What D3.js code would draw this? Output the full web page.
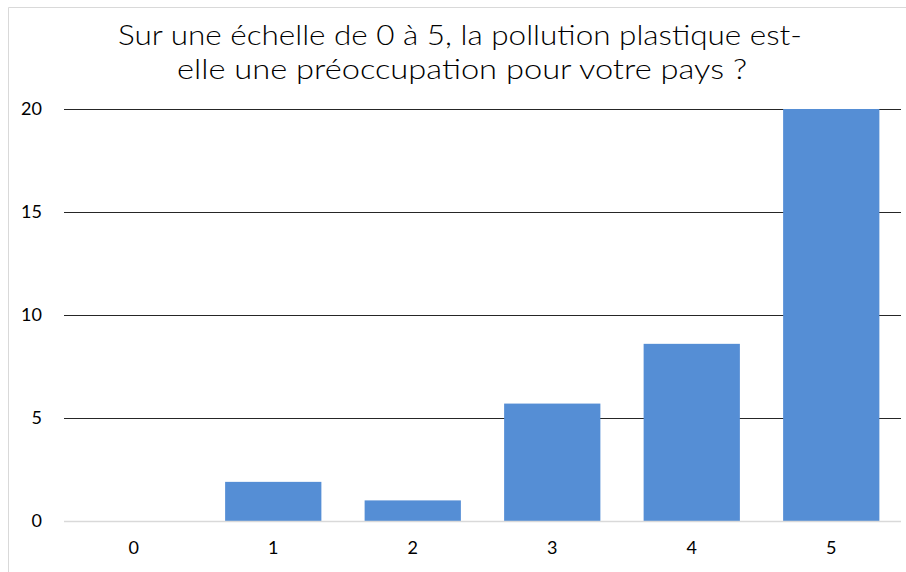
<!DOCTYPE html>
<html>
<head>
<meta charset="utf-8">
<script src="https://cdn.jsdelivr.net/npm/d3@7"></script>
<style>
  html, body { margin: 0; padding: 0; background: #fff; }
  svg { display: block; }
  text { font-family: "Century Gothic", Lato, "Noto Sans", sans-serif; fill: #000; }
</style>
</head>
<body>
<svg id="chart" width="906" height="572"></svg>
<script>
// Réponses par niveau de préoccupation (0 à 5)
const categories = ["0", "1", "2", "3", "4", "5"];
const values = [0, 1.9, 1.0, 5.7, 8.6, 20];
const yTicks = [0, 5, 10, 15, 20];
const titleLines = [
  "Sur une échelle de 0 à 5, la pollution plastique est-",
  "elle une préoccupation pour votre pays ?"
];

const W = 906, H = 572;
const margin = { top: 109, right: 5, bottom: 51, left: 64 };
const innerW = W - margin.left - margin.right;
const innerH = H - margin.top - margin.bottom;

const svg = d3.select("#chart");

// Cadre du graphique (bords haut et gauche)
svg.append("line").attr("x1", 8.5).attr("x2", 8.5).attr("y1", 7.5).attr("y2", H)
  .attr("stroke", "#d9d9d9").attr("stroke-width", 1);
svg.append("line").attr("x1", 8.5).attr("x2", W).attr("y1", 7.5).attr("y2", 7.5)
  .attr("stroke", "#d9d9d9").attr("stroke-width", 1);

// Titre sur deux lignes, police large façon Century Gothic
const titleLayout = [
  { x: 460, y: 45, len: 684 },
  { x: 462, y: 79, len: 570 }
];
svg.append("g")
  .selectAll("text")
  .data(titleLines)
  .join("text")
  .attr("text-anchor", "middle")
  .attr("x", (d, i) => titleLayout[i].x)
  .attr("y", (d, i) => titleLayout[i].y)
  .attr("textLength", (d, i) => titleLayout[i].len)
  .attr("lengthAdjust", "spacingAndGlyphs")
  .style("font-size", "27px")
  .style("font-weight", 300)
  .text(d => d);

const g = svg.append("g").attr("transform", `translate(${margin.left},${margin.top})`);

const x = d3.scaleBand().domain(categories).range([0, innerW]).paddingInner(0.31).paddingOuter(0.155);
const y = d3.scaleLinear().domain([0, 20]).range([innerH, 0]);

// Quadrillage horizontal
g.append("g")
  .selectAll("line")
  .data(yTicks.filter(d => d > 0))
  .join("line")
  .attr("x1", 0).attr("x2", innerW)
  .attr("y1", d => Math.round(y(d)) + 0.5).attr("y2", d => Math.round(y(d)) + 0.5)
  .attr("stroke", "#262626").attr("stroke-width", 1);

// Barres
g.append("g")
  .selectAll("rect")
  .data(values)
  .join("rect")
  .attr("x", (d, i) => x(categories[i]))
  .attr("width", x.bandwidth())
  .attr("y", d => y(d))
  .attr("height", d => innerH - y(d))
  .attr("fill", "#558ed5");

// Ligne de base
g.append("line")
  .attr("x1", 0).attr("x2", innerW)
  .attr("y1", Math.round(innerH) + 0.5).attr("y2", Math.round(innerH) + 0.5)
  .attr("stroke", "#d9d9d9").attr("stroke-width", 1.5);

// Axe vertical
const yAxis = g.append("g").call(d3.axisLeft(y).tickValues(yTicks).tickSize(0).tickPadding(22));
yAxis.select(".domain").remove();
yAxis.selectAll("text").style("font-size", "18px").attr("fill", "#000");

// Axe horizontal
const xAxis = g.append("g").attr("transform", `translate(0,${innerH})`)
  .call(d3.axisBottom(x).tickSize(0).tickPadding(20));
xAxis.select(".domain").remove();
xAxis.selectAll("text").style("font-size", "18px").attr("fill", "#000");
</script>
</body>
</html>
